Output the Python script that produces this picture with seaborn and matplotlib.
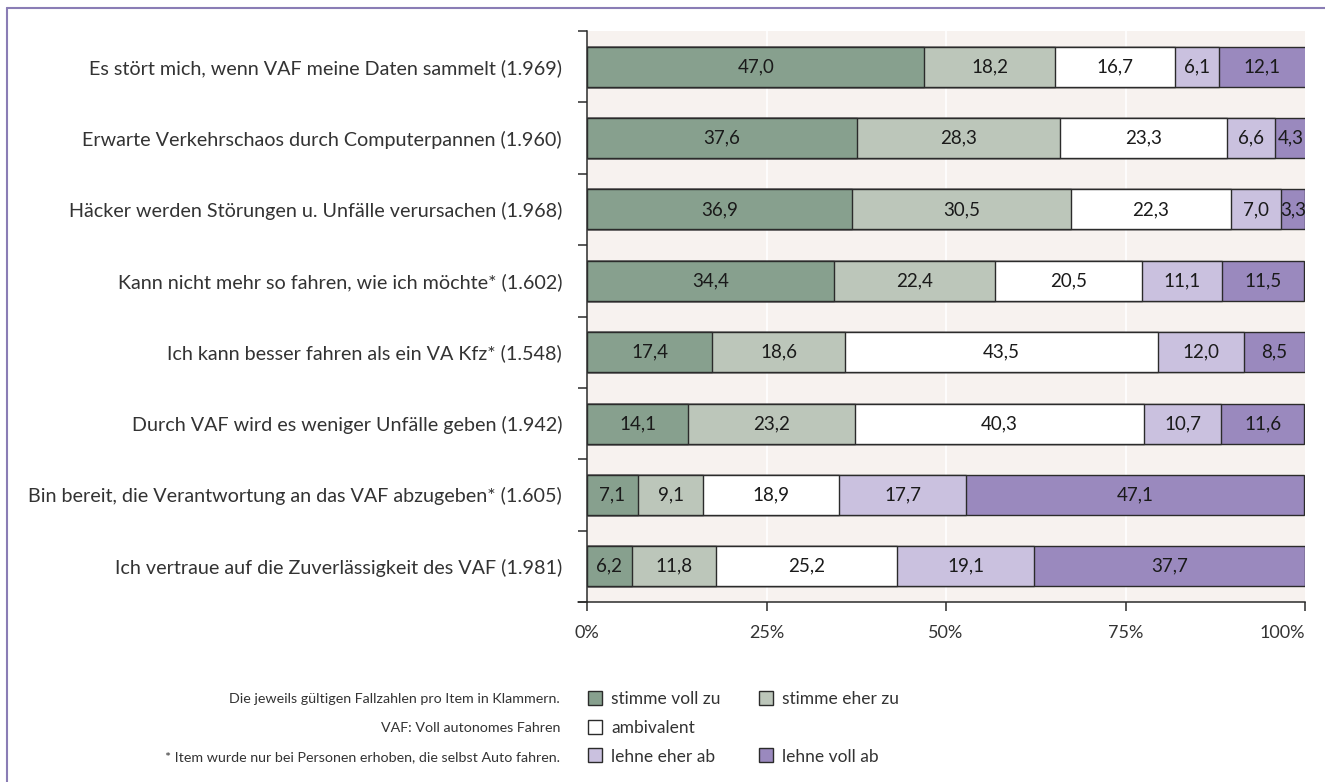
import numpy as np
import pandas as pd
import matplotlib
matplotlib.use("Agg")
import matplotlib.pyplot as plt
from matplotlib.lines import Line2D
import seaborn as sns

items = [
    "Es stört mich, wenn VAF meine Daten sammelt (1.969)",
    "Erwarte Verkehrschaos durch Computerpannen (1.960)",
    "Häcker werden Störungen u. Unfälle verursachen (1.968)",
    "Kann nicht mehr so fahren, wie ich möchte* (1.602)",
    "Ich kann besser fahren als ein VA Kfz* (1.548)",
    "Durch VAF wird es weniger Unfälle geben (1.942)",
    "Bin bereit, die Verantwortung an das VAF abzugeben* (1.605)",
    "Ich vertraue auf die Zuverlässigkeit des VAF (1.981)",
]
categories = ["stimme voll zu", "stimme eher zu", "ambivalent", "lehne eher ab", "lehne voll ab"]
stimme_voll_zu = [47.0, 37.6, 36.9, 34.4, 17.4, 14.1, 7.1, 6.2]
stimme_eher_zu = [18.2, 28.3, 30.5, 22.4, 18.6, 23.2, 9.1, 11.8]
ambivalent = [16.7, 23.3, 22.3, 20.5, 43.5, 40.3, 18.9, 25.2]
lehne_eher_ab = [6.1, 6.6, 7.0, 11.1, 12.0, 10.7, 17.7, 19.1]
lehne_voll_ab = [12.1, 4.3, 3.3, 11.5, 8.5, 11.6, 47.1, 37.7]
x_ticks = [0, 25, 50, 75, 100]
x_ticklabels = ["0%", "25%", "50%", "75%", "100%"]
notes = [
    "Die jeweils gültigen Fallzahlen pro Item in Klammern.",
    "VAF: Voll autonomes Fahren",
    "* Item wurde nur bei Personen erhoben, die selbst Auto fahren.",
]

colors = ["#87A08E", "#BCC6BA", "#FFFFFF", "#CAC1DF", "#9A89BE"]
edge = "#2b2b2b"
txt = "#333333"

sns.set_theme(style="white")
plt.rcParams["font.family"] = ["Lato", "DejaVu Sans"]

values = np.array([stimme_voll_zu, stimme_eher_zu, ambivalent, lehne_eher_ab, lehne_voll_ab])
cum = values.cumsum(axis=0)

fig = plt.figure(figsize=(13.25, 7.82), dpi=100)
ax = fig.add_axes([587 / 1325, 1 - 602 / 782, (1305 - 587) / 1325, (602 - 31) / 782])
ax.set_facecolor("#F7F2EF")

# stacked bars: longest cumulative first, then overlay shorter ones
for k in range(len(categories) - 1, -1, -1):
    df = pd.DataFrame({"item": items, "end": cum[k]})
    sns.barplot(data=df, x="end", y="item", orient="h", color=colors[k],
                saturation=1, width=0.56, edgecolor=edge, linewidth=1.0, ax=ax, zorder=3)

for k in range(len(categories)):
    for i in range(len(items)):
        center = cum[k][i] - values[k][i] / 2
        ax.text(center, i, f"{values[k][i]:.1f}".replace(".", ","), ha="center", va="center",
                fontsize=13.5, color="#1a1a1a", zorder=5)

ax.set_xlim(0, 100)
ax.set_ylim(len(items) - 0.5, -0.5)
ax.set_xlabel("")
ax.set_ylabel("")
ax.set_xticks(x_ticks)
ax.set_xticklabels(x_ticklabels, fontsize=13, color=txt)
ax.get_xticklabels()[-1].set_horizontalalignment("right")
for xv in x_ticks[1:-1]:
    ax.axvline(xv, color="white", lw=1.2, zorder=1)
ax.grid(False)

ax.set_yticks(range(len(items)))
ax.set_yticklabels(items, fontsize=14.2, color=txt)
ax.set_yticks(np.arange(-0.5, len(items), 1.0), minor=True)
ax.tick_params(axis="y", which="major", length=0, pad=18)
ax.tick_params(axis="y", which="minor", length=6.5, width=1.1, color=edge, direction="out", left=True)
ax.tick_params(axis="x", which="major", length=6.5, width=1.1, color=edge, direction="out", bottom=True, pad=10)

for s in ["top", "right"]:
    ax.spines[s].set_visible(False)
for s in ["left", "bottom"]:
    ax.spines[s].set_color(edge)
    ax.spines[s].set_linewidth(1.1)
ax.plot([-9 / 718, 0], [0, 0], transform=ax.transAxes, clip_on=False, color=edge, lw=1.1)

# legend
handles = []
labels = []
order = [0, 2, 3, 1, None, 4]
for o in order:
    if o is None:
        handles.append(Line2D([], [], linestyle="none", marker="s", markersize=10,
                              markerfacecolor="none", markeredgecolor="none"))
        labels.append("")
    else:
        handles.append(Line2D([], [], linestyle="none", marker="s", markersize=10,
                              markerfacecolor=colors[o], markeredgecolor=edge, markeredgewidth=1.0))
        labels.append(categories[o])
fig.legend(handles, labels, ncol=2, loc="center left", bbox_to_anchor=(587 / 1325, 1 - 728 / 782),
           frameon=False, fontsize=12.5, handlelength=0.9, handletextpad=0.5, columnspacing=2.15,
           labelspacing=0.72, borderpad=0, borderaxespad=0, labelcolor=txt)

ys = [699, 728, 757]
for t, y in zip(notes, ys):
    fig.text(560 / 1325, 1 - y / 782, t, ha="right", va="center", fontsize=10.3, color=txt)

border = "#8A7DB5"
fig.add_artist(Line2D([7 / 1325, 1], [1 - 8 / 782, 1 - 8 / 782], transform=fig.transFigure, color=border, lw=1.5))
fig.add_artist(Line2D([7 / 1325, 7 / 1325], [0, 1 - 8 / 782], transform=fig.transFigure, color=border, lw=1.5))

fig.savefig("out.png", dpi=100, facecolor="white")
